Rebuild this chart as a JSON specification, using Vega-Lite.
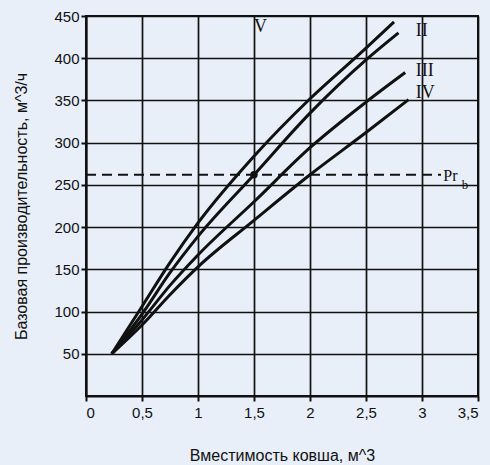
{
  "$schema": "https://vega.github.io/schema/vega-lite/v6.json",
  "width": 392,
  "height": 380,
  "autosize": "none",
  "padding": {"left": 86, "top": 16, "right": 12, "bottom": 69},
  "background": "#e9eff8",
  "config": {
    "view": {"stroke": "#111", "strokeWidth": 2, "fill": "#e9eff8"},
    "axis": {
      "grid": true, "gridColor": "#111", "gridWidth": 1.7, "gridOpacity": 1,
      "domainColor": "#111", "domainWidth": 2,
      "tickColor": "#111", "tickWidth": 2, "tickSize": 5,
      "labelFont": "Liberation Sans", "labelFontSize": 15, "labelColor": "#111",
      "titleFont": "Liberation Sans", "titleFontSize": 16, "titleFontWeight": "normal", "titleColor": "#111"
    }
  },
  "datasets": {
    "curves": [
      {"curve": "I", "v": 0.23, "p": 50}, {"curve": "I", "v": 0.5, "p": 106}, {"curve": "I", "v": 0.75, "p": 158},
      {"curve": "I", "v": 1.0, "p": 205}, {"curve": "I", "v": 1.5, "p": 284}, {"curve": "I", "v": 2.0, "p": 352},
      {"curve": "I", "v": 2.5, "p": 412}, {"curve": "I", "v": 2.75, "p": 443},
      {"curve": "II", "v": 0.23, "p": 50}, {"curve": "II", "v": 0.5, "p": 97}, {"curve": "II", "v": 0.75, "p": 146},
      {"curve": "II", "v": 1.0, "p": 189}, {"curve": "II", "v": 1.5, "p": 262}, {"curve": "II", "v": 2.0, "p": 335},
      {"curve": "II", "v": 2.5, "p": 398}, {"curve": "II", "v": 2.79, "p": 430},
      {"curve": "III", "v": 0.23, "p": 50}, {"curve": "III", "v": 0.5, "p": 90}, {"curve": "III", "v": 0.75, "p": 131},
      {"curve": "III", "v": 1.0, "p": 167}, {"curve": "III", "v": 1.5, "p": 230}, {"curve": "III", "v": 2.0, "p": 294},
      {"curve": "III", "v": 2.5, "p": 348}, {"curve": "III", "v": 2.85, "p": 383},
      {"curve": "IV", "v": 0.23, "p": 50}, {"curve": "IV", "v": 0.5, "p": 84}, {"curve": "IV", "v": 0.75, "p": 120},
      {"curve": "IV", "v": 1.0, "p": 153}, {"curve": "IV", "v": 1.5, "p": 208}, {"curve": "IV", "v": 2.0, "p": 262},
      {"curve": "IV", "v": 2.5, "p": 312}, {"curve": "IV", "v": 2.88, "p": 351}
    ],
    "dash": [{"v": 0, "p": 262}, {"v": 3.17, "p": 262}],
    "dot": [{"v": 1.5, "p": 262}],
    "labels": [
      {"t": "V", "v": 1.5, "p": 437},
      {"t": "II", "v": 2.945, "p": 432},
      {"t": "III", "v": 2.945, "p": 385},
      {"t": "IV", "v": 2.945, "p": 359}
    ],
    "pr": [{"t": "Pr", "v": 3.19, "p": 260}],
    "sub": [{"t": "b", "v": 3.355, "p": 250}]
  },
  "layer": [
    {
      "data": {"name": "curves"},
      "mark": {"type": "line", "color": "#111", "strokeWidth": 3, "interpolate": "monotone"},
      "encoding": {
        "x": {"field": "v", "type": "quantitative",
              "scale": {"domain": [0, 3.5], "nice": false},
              "axis": {"title": "Вместимость ковша, м^3", "values": [0, 0.5, 1, 1.5, 2, 2.5, 3, 3.5],
                       "labelExpr": "replace(toString(datum.value), '.', ',')", "titlePadding": 27, "labelPadding": 4}},
        "y": {"field": "p", "type": "quantitative",
              "scale": {"domain": [0, 450], "nice": false},
              "axis": {"title": "Базовая производительность, м^3/ч", "values": [50, 100, 150, 200, 250, 300, 350, 400, 450],
                       "titlePadding": 24, "labelPadding": 2}},
        "detail": {"field": "curve"}
      }
    },
    {
      "data": {"name": "dash"},
      "mark": {"type": "line", "color": "#111", "strokeWidth": 2, "strokeDash": [10, 6]},
      "encoding": {"x": {"field": "v", "type": "quantitative"}, "y": {"field": "p", "type": "quantitative"}}
    },
    {
      "data": {"name": "dot"},
      "mark": {"type": "point", "filled": true, "color": "#111", "size": 55, "opacity": 1},
      "encoding": {"x": {"field": "v", "type": "quantitative"}, "y": {"field": "p", "type": "quantitative"}}
    },
    {
      "data": {"name": "labels"},
      "mark": {"type": "text", "font": "Liberation Serif", "fontSize": 18, "align": "left", "baseline": "middle", "color": "#111"},
      "encoding": {"x": {"field": "v", "type": "quantitative"}, "y": {"field": "p", "type": "quantitative"}, "text": {"field": "t"}}
    },
    {
      "data": {"name": "pr"},
      "mark": {"type": "text", "font": "Liberation Serif", "fontSize": 16, "align": "left", "baseline": "middle", "color": "#111"},
      "encoding": {"x": {"field": "v", "type": "quantitative"}, "y": {"field": "p", "type": "quantitative"}, "text": {"field": "t"}}
    },
    {
      "data": {"name": "sub"},
      "mark": {"type": "text", "font": "Liberation Serif", "fontSize": 13, "align": "left", "baseline": "middle", "color": "#111"},
      "encoding": {"x": {"field": "v", "type": "quantitative"}, "y": {"field": "p", "type": "quantitative"}, "text": {"field": "t"}}
    }
  ]
}
